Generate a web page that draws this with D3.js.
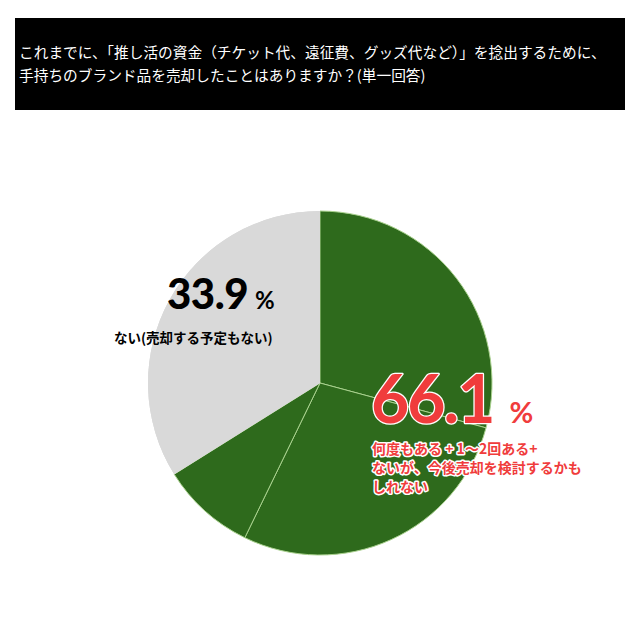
<!DOCTYPE html>
<html>
<head>
<meta charset="utf-8">
<script src="https://cdn.jsdelivr.net/npm/d3@7"></script>
<style>
  body { margin: 0; background: #fff; }
  svg text { font-family: "Noto Sans CJK JP", "Noto Sans", sans-serif; }
  svg text.big { font-family: Lato, "Noto Sans", sans-serif; }
</style>
</head>
<body>
<div id="chart"></div>
<script>
// data
var titleLines = [
  "これまでに、「推し活の資金（チケット代、遠征費、グッズ代など）」を捻出するために、",
  "手持ちのブランド品を売却したことはありますか？(単一回答)"
];
var sliceNames = ["何度もある", "1〜2回ある", "ないが、今後売却を検討するかもしれない", "ない(売却する予定もない)"];
var sliceValues = [29.2, 28.0, 8.9, 33.9];
var sliceColors = ["#2e6a1c", "#2e6a1c", "#2e6a1c", "#d9d9d9"];
var yesTotal = "66.1";
var yesLabel = ["何度もある + 1〜2回ある+", "ないが、今後売却を検討するかも", "しれない"];
var noTotal = "33.9";
var noLabel = "ない(売却する予定もない)";

var svgWidth = 640, svgHeight = 640;

var svg = d3.select("#chart")
  .append("svg")
  .attr("width", svgWidth)
  .attr("height", svgHeight);

// title box
svg.append("rect")
  .attr("x", 15).attr("y", 18)
  .attr("width", 610).attr("height", 92)
  .attr("fill", "#000");

svg.selectAll(".title")
  .data(titleLines)
  .enter().append("text")
  .attr("class", "title")
  .attr("x", 19)
  .attr("y", (d, i) => 58 + i * 23)
  .attr("fill", "#fff")
  .attr("font-size", "14.7px")
  .text(d => d);

// pie
var cx = 320, cy = 383, radius = 172;

var pie = d3.pie().sort(null).value(d => d);
var arc = d3.arc().innerRadius(0).outerRadius(radius);

var pieGroup = svg.append("g")
  .attr("transform", `translate(${cx},${cy})`);

pieGroup.selectAll("path")
  .data(pie(sliceValues))
  .enter().append("path")
  .attr("d", arc)
  .attr("fill", (d, i) => sliceColors[i])
  .attr("stroke", (d, i) => i < 3 ? "#a9d18e" : "none")
  .attr("stroke-width", 1);

// grey slice redrawn on top so its edge stays clean
pieGroup.append("path")
  .datum(pie(sliceValues)[3])
  .attr("d", arc)
  .attr("fill", sliceColors[3]);

// 33.9 label
var noText = svg.append("text")
  .attr("class", "big")
  .attr("x", 167).attr("y", 309)
  .attr("font-weight", 900)
  .attr("fill", "#000");
noText.append("tspan").attr("font-size", "42px").attr("letter-spacing", "-0.5px").text(noTotal);
noText.append("tspan").attr("font-size", "24px").attr("font-weight", "bold").attr("dx", 7).text("%");

svg.append("text")
  .attr("x", 114).attr("y", 343)
  .attr("font-size", "13.5px")
  .attr("font-weight", "bold")
  .attr("fill", "#000")
  .text(noLabel);

// 66.1 label
var yesText = svg.append("text")
  .attr("class", "big")
  .attr("x", 371).attr("y", 423)
  .attr("font-weight", "bold")
  .attr("fill", "#f03c3c")
  .attr("stroke", "#fff")
  .attr("stroke-width", 2.5)
  .attr("paint-order", "stroke")
  .attr("stroke-linejoin", "round");
yesText.append("tspan").attr("font-size", "66px").attr("letter-spacing", "-2px").text(yesTotal);
yesText.append("tspan").attr("font-size", "29px").attr("dx", 16).text("%");

svg.selectAll(".yes")
  .data(yesLabel)
  .enter().append("text")
  .attr("class", "yes")
  .attr("x", 372)
  .attr("y", (d, i) => 454 + i * 19)
  .attr("font-size", "14px")
  .attr("font-weight", "bold")
  .attr("fill", "#f03c3c")
  .attr("stroke", "#fff")
  .attr("stroke-width", 3)
  .attr("paint-order", "stroke")
  .attr("stroke-linejoin", "round")
  .text(d => d);
</script>
</body>
</html>
